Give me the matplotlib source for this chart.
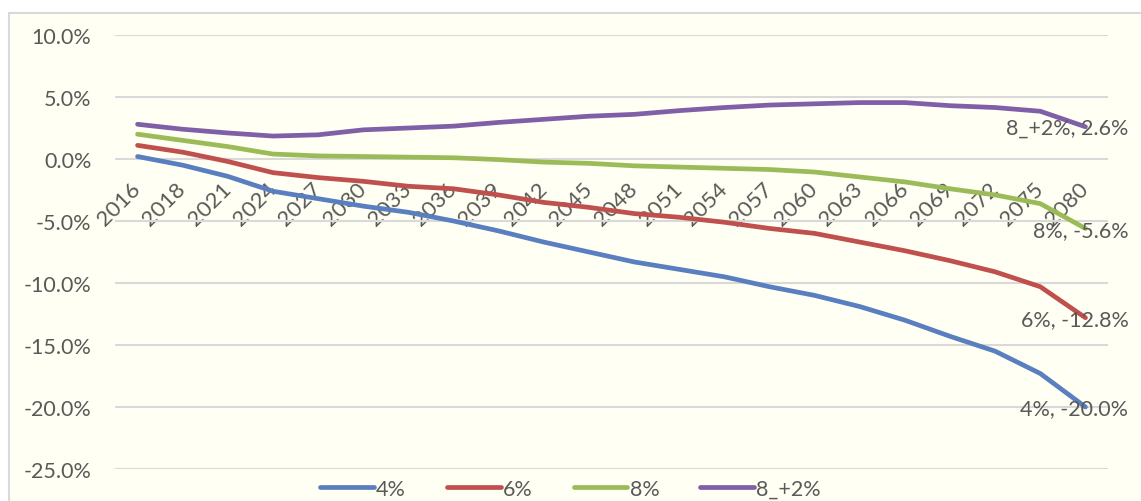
import matplotlib
matplotlib.use('Agg')
import matplotlib.pyplot as plt
from matplotlib.patches import Rectangle
from matplotlib.ticker import FuncFormatter
import numpy as np

# categories and series (percent)
years = ['2016', '2018', '2021', '2024', '2027', '2030', '2033', '2036', '2039', '2042', '2045',
         '2048', '2051', '2054', '2057', '2060', '2063', '2066', '2069', '2072', '2075', '2080']
s4 = [0.2, -0.5, -1.4, -2.6, -3.2, -3.8, -4.3, -5.0, -5.8, -6.7, -7.5,
      -8.3, -8.9, -9.5, -10.3, -11.0, -11.9, -13.0, -14.3, -15.5, -17.3, -20.0]
s6 = [1.1, 0.55, -0.2, -1.1, -1.5, -1.8, -2.2, -2.4, -2.9, -3.5, -3.9,
      -4.4, -4.7, -5.1, -5.6, -6.0, -6.7, -7.4, -8.2, -9.1, -10.3, -12.8]
s8 = [2.0, 1.5, 1.0, 0.4, 0.25, 0.2, 0.15, 0.1, -0.05, -0.25, -0.35,
      -0.55, -0.65, -0.75, -0.85, -1.05, -1.45, -1.85, -2.4, -2.9, -3.6, -5.6]
s8p2 = [2.8, 2.4, 2.1, 1.85, 1.95, 2.35, 2.5, 2.65, 2.95, 3.2, 3.45,
        3.6, 3.9, 4.15, 4.35, 4.45, 4.55, 4.55, 4.3, 4.15, 3.85, 2.6]
names = ['4%', '6%', '8%', '8_+2%']
colors = ['#5A7FC0', '#C0504D', '#9BBB59', '#7F5FA8']

bg = '#FFFFF3'
txtc = '#595959'
plt.rcParams['font.family'] = ['Lato', 'DejaVu Sans']

fig = plt.figure(figsize=(11.41, 5.02), dpi=100)
fig.patch.set_facecolor('white')
fig.patches.append(Rectangle((9/1141, -0.2), 1.2, 1.2 - 14/502, transform=fig.transFigure,
                             facecolor=bg, edgecolor='#D9D9D9', lw=1.5, zorder=-10))

ax = fig.add_axes([115/1141, 1 - 470/502, 993/1141, 434/502])
ax.set_facecolor('none')
x = np.arange(len(years))
for vals, nm, c in zip([s4, s6, s8, s8p2], names, colors):
    v = np.array(vals) / 100
    ax.plot(x, v, color=c, lw=3.4, label=nm, solid_capstyle='round', solid_joinstyle='round', zorder=3)
    ax.annotate(nm + ', ' + '%.1f%%' % vals[-1], xy=(x[-1], v[-1]), xytext=(31, -1),
                textcoords='offset points', ha='right', va='center', fontsize=15.5, color=txtc, zorder=4)

ax.set_xlim(-0.5, len(years) - 0.5)
ax.set_ylim(-0.25, 0.10)
ax.set_yticks(np.arange(-0.25, 0.101, 0.05))
ax.yaxis.set_major_formatter(FuncFormatter(lambda v, p: '%.1f%%' % (round(v * 100, 1) + 0.0)))
ax.grid(axis='y', color='#D9D9D9', lw=1.5, zorder=1)
for s in ['left', 'right', 'top']:
    ax.spines[s].set_visible(False)
ax.spines['bottom'].set_position(('data', 0))
ax.spines['bottom'].set_visible(False)
ax.set_xticks(x)
ax.set_xticklabels(years, rotation=45, ha='right', va='center', rotation_mode='anchor')
ax.tick_params(axis='x', length=0, pad=19, labelsize=16, labelcolor=txtc)
ax.tick_params(axis='y', length=0, pad=17, labelsize=15.5, labelcolor=txtc)

leg = fig.legend(loc='center', bbox_to_anchor=(0.5, 1 - 490/502), ncol=4, frameon=False,
                 fontsize=15.5, handlelength=2.5, handletextpad=0.1, columnspacing=1.9, labelcolor=txtc)

fig.savefig('out.png', dpi=100, facecolor=fig.get_facecolor())
